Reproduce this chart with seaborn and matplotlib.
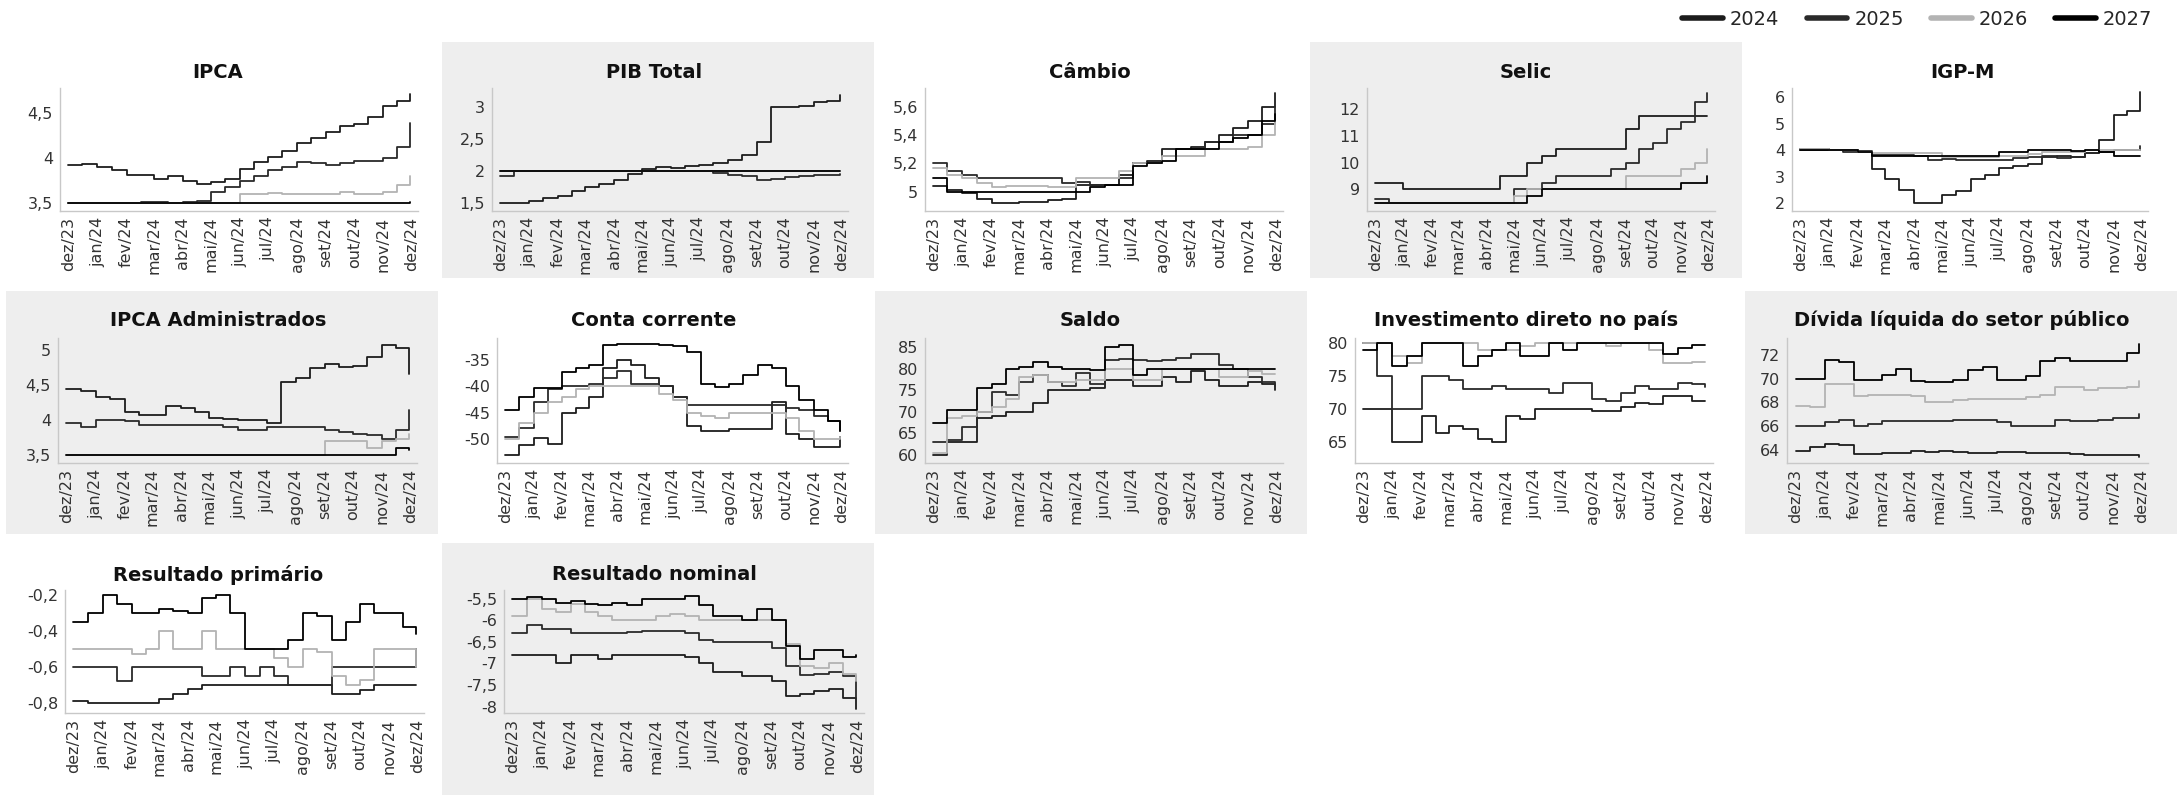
import numpy as np
import pandas as pd
import matplotlib
matplotlib.use("Agg")
import matplotlib.pyplot as plt
import seaborn as sns
from matplotlib.patches import Rectangle
import matplotlib.ticker as mticker
from matplotlib.lines import Line2D

# ---------------- data ----------------
dates = pd.to_datetime([
    "2023-12-01", "2023-12-16", "2024-01-01", "2024-01-16", "2024-02-01", "2024-02-16",
    "2024-03-01", "2024-03-16", "2024-04-01", "2024-04-16", "2024-05-01", "2024-05-16",
    "2024-06-01", "2024-06-16", "2024-07-01", "2024-07-16", "2024-08-01", "2024-08-16",
    "2024-09-01", "2024-09-16", "2024-10-01", "2024-10-16", "2024-11-01", "2024-11-16",
    "2024-11-29"])
month_ticks = pd.to_datetime([
    "2023-12-01", "2024-01-01", "2024-02-01", "2024-03-01", "2024-04-01", "2024-05-01",
    "2024-06-01", "2024-07-01", "2024-08-01", "2024-09-01", "2024-10-01", "2024-11-01",
    "2024-12-01"])
month_labels = ["dez/23", "jan/24", "fev/24", "mar/24", "abr/24", "mai/24", "jun/24",
                "jul/24", "ago/24", "set/24", "out/24", "nov/24", "dez/24"]
years = ["2024", "2025", "2026", "2027"]

ipca_2024 = [3.92, 3.93, 3.90, 3.87, 3.81, 3.81, 3.77, 3.80, 3.75, 3.71, 3.73, 3.77, 3.88, 3.95, 4.01, 4.08, 4.16, 4.22, 4.28, 4.35, 4.37, 4.45, 4.57, 4.63, 4.70]
ipca_2025 = [3.50, 3.50, 3.50, 3.50, 3.50, 3.51, 3.51, 3.50, 3.51, 3.53, 3.62, 3.68, 3.75, 3.80, 3.87, 3.90, 3.96, 3.94, 3.92, 3.94, 3.97, 3.97, 4.00, 4.12, 4.38]
ipca_2026 = [3.50, 3.50, 3.50, 3.50, 3.50, 3.50, 3.50, 3.50, 3.50, 3.50, 3.50, 3.50, 3.60, 3.60, 3.61, 3.60, 3.60, 3.60, 3.60, 3.62, 3.60, 3.60, 3.62, 3.70, 3.80]
ipca_2027 = [3.50, 3.50, 3.50, 3.50, 3.50, 3.50, 3.50, 3.50, 3.50, 3.50, 3.50, 3.50, 3.50, 3.50, 3.50, 3.50, 3.50, 3.50, 3.50, 3.50, 3.50, 3.50, 3.50, 3.50, 3.51]

pib_2024 = [1.50, 1.50, 1.52, 1.58, 1.60, 1.68, 1.75, 1.79, 1.85, 1.95, 2.03, 2.07, 2.05, 2.08, 2.09, 2.12, 2.18, 2.25, 2.46, 3.00, 3.00, 3.02, 3.08, 3.10, 3.20]
pib_2025 = [1.92, 2.00, 2.00, 2.00, 2.00, 2.00, 2.00, 2.00, 2.00, 2.00, 2.00, 2.00, 2.00, 2.00, 2.00, 1.97, 1.93, 1.92, 1.85, 1.88, 1.90, 1.92, 1.93, 1.94, 1.95]
pib_2026 = [2.00, 2.00, 2.00, 2.00, 2.00, 2.00, 2.00, 2.00, 2.00, 2.00, 2.00, 2.00, 2.00, 2.00, 2.00, 2.00, 2.00, 2.00, 2.00, 2.00, 2.00, 2.00, 2.00, 2.00, 2.00]
pib_2027 = [2.00, 2.00, 2.00, 2.00, 2.00, 2.00, 2.00, 2.00, 2.00, 2.00, 2.00, 2.00, 2.00, 2.00, 2.00, 2.00, 2.00, 2.00, 2.00, 2.00, 2.00, 2.00, 2.00, 2.00, 2.00]

cambio_2024 = [5.04, 5.01, 4.99, 4.95, 4.92, 4.92, 4.93, 4.93, 4.94, 4.95, 5.05, 5.05, 5.05, 5.12, 5.20, 5.22, 5.30, 5.30, 5.32, 5.35, 5.40, 5.45, 5.50, 5.60, 5.70]
cambio_2025 = [5.20, 5.15, 5.12, 5.10, 5.10, 5.10, 5.10, 5.10, 5.10, 5.06, 5.07, 5.05, 5.05, 5.10, 5.20, 5.20, 5.25, 5.30, 5.30, 5.35, 5.35, 5.40, 5.40, 5.48, 5.60]
cambio_2026 = [5.17, 5.12, 5.10, 5.06, 5.03, 5.04, 5.04, 5.04, 5.03, 5.03, 5.10, 5.10, 5.10, 5.15, 5.20, 5.20, 5.25, 5.25, 5.25, 5.30, 5.30, 5.30, 5.32, 5.40, 5.50]
cambio_2027 = [5.10, 5.00, 5.00, 5.00, 5.00, 5.00, 5.00, 5.00, 5.00, 5.00, 5.00, 5.03, 5.05, 5.05, 5.18, 5.20, 5.22, 5.30, 5.30, 5.30, 5.35, 5.38, 5.40, 5.50, 5.55]

selic_2024 = [9.25, 9.25, 9.00, 9.00, 9.00, 9.00, 9.00, 9.00, 9.00, 9.50, 9.50, 10.00, 10.25, 10.50, 10.50, 10.50, 10.50, 10.50, 11.25, 11.75, 11.75, 11.75, 11.75, 11.75, 11.75]
selic_2025 = [8.65, 8.50, 8.50, 8.50, 8.50, 8.50, 8.50, 8.50, 8.50, 8.50, 9.00, 9.00, 9.25, 9.50, 9.50, 9.50, 9.50, 9.75, 10.00, 10.50, 10.75, 11.25, 11.50, 12.25, 12.60]
selic_2026 = [8.50, 8.50, 8.50, 8.50, 8.50, 8.50, 8.50, 8.50, 8.50, 8.50, 8.75, 9.00, 9.00, 9.00, 9.00, 9.00, 9.00, 9.00, 9.50, 9.50, 9.50, 9.50, 9.75, 10.00, 10.50]
selic_2027 = [8.50, 8.50, 8.50, 8.50, 8.50, 8.50, 8.50, 8.50, 8.50, 8.50, 8.50, 8.75, 9.00, 9.00, 9.00, 9.00, 9.00, 9.00, 9.00, 9.00, 9.00, 9.00, 9.25, 9.25, 9.50]

igpm_2024 = [4.05, 4.05, 4.02, 4.00, 3.95, 3.30, 2.90, 2.50, 2.00, 2.00, 2.30, 2.45, 2.90, 3.05, 3.35, 3.42, 3.50, 3.75, 3.80, 3.75, 3.90, 4.40, 5.35, 5.50, 6.20]
igpm_2025 = [4.00, 4.00, 4.00, 3.95, 3.98, 3.82, 3.82, 3.82, 3.80, 3.65, 3.68, 3.65, 3.65, 3.62, 3.65, 3.70, 3.75, 3.80, 3.70, 3.75, 3.90, 3.95, 4.00, 4.00, 4.15]
igpm_2026 = [4.05, 4.05, 4.02, 4.00, 3.95, 3.88, 3.88, 3.88, 3.88, 3.88, 3.75, 3.75, 3.75, 3.75, 3.78, 3.80, 3.85, 3.95, 3.95, 3.95, 4.00, 4.00, 4.00, 4.00, 4.00]
igpm_2027 = [4.00, 4.00, 4.00, 4.00, 3.95, 3.80, 3.80, 3.80, 3.80, 3.80, 3.78, 3.78, 3.78, 3.78, 3.95, 3.95, 4.00, 4.00, 4.00, 3.98, 4.00, 3.95, 3.80, 3.78, 3.78]

adm_2024 = [4.45, 4.42, 4.33, 4.30, 4.12, 4.07, 4.07, 4.20, 4.17, 4.12, 4.03, 4.01, 4.00, 4.00, 3.96, 4.55, 4.60, 4.75, 4.80, 4.76, 4.77, 4.90, 5.08, 5.03, 4.66]
adm_2025 = [3.95, 3.90, 4.00, 4.00, 3.98, 3.93, 3.92, 3.93, 3.92, 3.92, 3.92, 3.90, 3.86, 3.85, 3.90, 3.90, 3.90, 3.90, 3.85, 3.82, 3.80, 3.79, 3.72, 3.85, 4.15]
adm_2026 = [3.50, 3.50, 3.50, 3.50, 3.50, 3.50, 3.50, 3.50, 3.50, 3.50, 3.50, 3.50, 3.50, 3.50, 3.50, 3.50, 3.50, 3.50, 3.70, 3.70, 3.70, 3.60, 3.70, 3.72, 3.80]
adm_2027 = [3.50, 3.50, 3.50, 3.50, 3.50, 3.50, 3.50, 3.50, 3.50, 3.50, 3.50, 3.50, 3.50, 3.50, 3.50, 3.50, 3.50, 3.50, 3.50, 3.50, 3.50, 3.50, 3.50, 3.60, 3.57]

cc_2024 = [-53.0, -51.0, -49.8, -50.8, -45.0, -44.0, -42.0, -36.5, -35.0, -36.0, -38.5, -40.0, -42.0, -47.5, -48.5, -48.5, -48.0, -48.0, -48.0, -43.0, -49.0, -50.0, -51.5, -51.5, -49.5]
cc_2025 = [-49.5, -47.8, -43.0, -40.5, -40.0, -40.0, -39.5, -38.5, -37.0, -39.5, -39.5, -40.0, -42.0, -43.5, -43.5, -43.5, -43.5, -43.5, -43.5, -43.5, -44.0, -44.5, -45.5, -46.5, -48.5]
cc_2026 = [-50.0, -47.0, -45.0, -43.0, -42.0, -40.5, -40.0, -40.0, -40.0, -40.0, -40.0, -41.5, -42.5, -45.0, -45.5, -46.0, -45.0, -45.0, -45.0, -45.0, -46.0, -48.5, -50.0, -50.0, -49.5]
cc_2027 = [-44.5, -42.0, -40.3, -40.3, -37.2, -36.5, -36.0, -32.2, -32.0, -32.0, -32.0, -32.1, -32.3, -33.5, -39.5, -40.2, -39.5, -37.8, -36.0, -36.5, -40.0, -42.5, -44.5, -46.5, -48.5]

saldo_2024 = [60.0, 63.0, 63.0, 68.5, 69.0, 70.0, 70.0, 72.0, 75.0, 75.0, 75.0, 75.5, 77.5, 77.5, 76.0, 76.0, 78.0, 77.0, 79.5, 77.5, 76.0, 76.0, 77.0, 76.5, 75.0]
saldo_2025 = [63.0, 63.5, 66.5, 70.0, 74.5, 74.0, 77.0, 78.5, 77.0, 76.0, 79.0, 76.5, 82.0, 82.3, 82.0, 81.8, 82.0, 82.5, 83.5, 83.5, 81.0, 80.0, 78.0, 77.0, 76.0]
saldo_2026 = [60.5, 68.5, 69.0, 70.0, 71.0, 73.0, 78.0, 78.5, 77.0, 77.0, 77.5, 77.5, 80.0, 80.0, 77.5, 77.5, 80.0, 80.0, 80.0, 80.0, 78.0, 78.0, 79.5, 78.8, 78.8]
saldo_2027 = [67.5, 70.5, 70.5, 75.5, 76.5, 80.0, 80.5, 81.5, 80.5, 80.0, 80.0, 79.8, 85.0, 85.5, 78.5, 80.0, 80.0, 80.0, 80.0, 80.0, 80.0, 80.0, 80.0, 80.0, 80.0]

inv_2024 = [70.0, 70.0, 65.0, 65.0, 69.0, 66.5, 67.5, 67.0, 65.5, 65.0, 69.0, 68.5, 70.0, 70.0, 70.0, 70.0, 69.7, 69.8, 70.3, 71.0, 70.8, 72.0, 72.0, 71.3, 71.2]
inv_2025 = [80.0, 75.0, 70.0, 70.0, 75.0, 75.0, 74.5, 73.0, 73.0, 73.5, 73.0, 73.0, 73.0, 72.5, 74.0, 74.0, 71.5, 71.2, 72.5, 73.5, 73.0, 73.0, 74.0, 73.8, 73.3]
inv_2026 = [80.0, 80.0, 78.0, 77.0, 80.0, 80.0, 80.0, 80.0, 79.0, 79.0, 79.0, 79.5, 80.0, 80.0, 80.0, 80.0, 80.0, 79.5, 80.0, 80.0, 79.0, 77.0, 77.0, 77.2, 77.2]
inv_2027 = [79.0, 80.0, 76.5, 78.0, 80.0, 80.0, 80.0, 76.5, 78.0, 79.0, 80.0, 78.0, 78.0, 80.0, 79.0, 80.0, 80.0, 80.0, 80.0, 80.0, 80.0, 78.3, 79.3, 79.7, 79.7]

div_2024 = [63.9, 64.2, 64.5, 64.4, 63.6, 63.6, 63.7, 63.7, 63.9, 63.8, 63.9, 63.8, 63.7, 63.7, 63.8, 63.8, 63.7, 63.7, 63.7, 63.6, 63.5, 63.5, 63.5, 63.5, 63.4]
div_2025 = [66.0, 66.0, 66.3, 66.5, 66.0, 66.2, 66.4, 66.4, 66.4, 66.4, 66.4, 66.5, 66.5, 66.5, 66.3, 66.0, 66.0, 66.0, 66.5, 66.4, 66.4, 66.5, 66.7, 66.7, 67.0]
div_2026 = [67.7, 67.6, 69.5, 69.5, 68.5, 68.6, 68.6, 68.6, 68.5, 68.0, 68.0, 68.2, 68.3, 68.3, 68.3, 68.3, 68.4, 68.6, 69.3, 69.3, 69.0, 69.2, 69.2, 69.3, 69.8]
div_2027 = [70.0, 70.0, 71.6, 71.4, 69.9, 69.9, 70.3, 70.8, 69.8, 69.7, 69.7, 69.9, 70.7, 71.0, 69.9, 69.9, 70.2, 71.5, 71.7, 71.5, 71.5, 71.5, 71.5, 72.2, 72.9]

prim_2024 = [-0.79, -0.80, -0.80, -0.80, -0.80, -0.80, -0.78, -0.75, -0.72, -0.70, -0.70, -0.70, -0.70, -0.70, -0.70, -0.70, -0.70, -0.70, -0.75, -0.75, -0.73, -0.70, -0.70, -0.70, -0.70]
prim_2025 = [-0.60, -0.60, -0.60, -0.68, -0.60, -0.60, -0.60, -0.60, -0.60, -0.65, -0.65, -0.60, -0.65, -0.60, -0.65, -0.70, -0.70, -0.70, -0.60, -0.60, -0.60, -0.60, -0.60, -0.60, -0.50]
prim_2026 = [-0.50, -0.50, -0.50, -0.50, -0.53, -0.50, -0.40, -0.50, -0.50, -0.40, -0.50, -0.50, -0.50, -0.50, -0.55, -0.60, -0.50, -0.52, -0.65, -0.70, -0.67, -0.50, -0.50, -0.50, -0.60]
prim_2027 = [-0.35, -0.30, -0.20, -0.25, -0.30, -0.30, -0.28, -0.29, -0.30, -0.22, -0.20, -0.30, -0.50, -0.50, -0.50, -0.45, -0.30, -0.32, -0.45, -0.35, -0.25, -0.30, -0.30, -0.38, -0.42]

nom_2024 = [-6.80, -6.80, -6.80, -7.00, -6.80, -6.80, -6.90, -6.80, -6.80, -6.80, -6.80, -6.80, -6.85, -7.00, -7.20, -7.20, -7.30, -7.30, -7.40, -7.75, -7.72, -7.65, -7.60, -7.80, -8.05]
nom_2025 = [-6.30, -6.10, -6.20, -6.20, -6.30, -6.30, -6.30, -6.30, -6.27, -6.25, -6.25, -6.25, -6.30, -6.45, -6.50, -6.50, -6.50, -6.50, -6.65, -7.05, -7.28, -7.25, -7.20, -7.30, -7.80]
nom_2026 = [-5.90, -5.50, -5.75, -5.80, -5.62, -5.80, -5.90, -6.00, -6.00, -6.00, -5.90, -5.85, -5.90, -6.00, -6.00, -6.00, -6.00, -6.00, -6.00, -6.55, -7.05, -7.10, -7.00, -7.25, -7.40]
nom_2027 = [-5.50, -5.47, -5.50, -5.60, -5.55, -5.62, -5.65, -5.60, -5.65, -5.50, -5.50, -5.50, -5.45, -5.65, -5.90, -5.90, -6.00, -5.75, -6.00, -6.60, -6.90, -6.70, -6.70, -6.85, -6.80]

titles = ["IPCA", "PIB Total", "Câmbio", "Selic", "IGP-M",
          "IPCA Administrados", "Conta corrente", "Saldo", "Investimento direto no país",
          "Dívida líquida do setor público", "Resultado primário", "Resultado nominal"]
series = [
    [ipca_2024, ipca_2025, ipca_2026, ipca_2027],
    [pib_2024, pib_2025, pib_2026, pib_2027],
    [cambio_2024, cambio_2025, cambio_2026, cambio_2027],
    [selic_2024, selic_2025, selic_2026, selic_2027],
    [igpm_2024, igpm_2025, igpm_2026, igpm_2027],
    [adm_2024, adm_2025, adm_2026, adm_2027],
    [cc_2024, cc_2025, cc_2026, cc_2027],
    [saldo_2024, saldo_2025, saldo_2026, saldo_2027],
    [inv_2024, inv_2025, inv_2026, inv_2027],
    [div_2024, div_2025, div_2026, div_2027],
    [prim_2024, prim_2025, prim_2026, prim_2027],
    [nom_2024, nom_2025, nom_2026, nom_2027],
]
yticks = [
    [3.5, 4, 4.5], [1.5, 2, 2.5, 3], [5, 5.2, 5.4, 5.6], [9, 10, 11, 12], [2, 3, 4, 5, 6],
    [3.5, 4, 4.5, 5], [-50, -45, -40, -35], [60, 65, 70, 75, 80, 85], [65, 70, 75, 80],
    [64, 66, 68, 70, 72], [-0.8, -0.6, -0.4, -0.2], [-8, -7.5, -7, -6.5, -6, -5.5],
]

# ---------------- layout / style ----------------
W, H = 2179, 795
colors = {"2024": "#1c1c1c", "2025": "#2a2a2a", "2026": "#b3b3b3", "2027": "#000000"}
ylims = [
    (3.415, 4.77), (1.37, 3.305), (4.863, 5.735), (8.19, 12.79), (1.71, 6.35),
    (3.38, 5.18), (-54.47, -30.85), (58.06, 87.2), (61.9, 80.77), (62.86, 73.43),
    (-0.855, -0.175), (-8.15, -5.3),
]
# (row, col, left offset, right offset) in px inside a 436 px cell
cells = [
    (0, 0, 60, 418), (0, 1, 56, 412), (0, 2, 53, 411), (0, 3, 59, 407), (0, 4, 48, 404),
    (1, 0, 58, 417), (1, 1, 61, 412), (1, 2, 53, 411), (1, 3, 47, 405), (1, 4, 43, 404),
    (2, 0, 65, 424), (2, 1, 68, 428),
]
row_axes_y = [(88, 211), (338, 463), (590, 713)]
row_title_y = [73, 320, 575]
row_bg = [(42, 236), (291, 243), (543, 252)]
col_bg_x = [6, 442, 875, 1310, 1745]
cell_w = 436

sns.set_theme(style="white")
plt.rcParams["font.family"] = ["DejaVu Sans"]
plt.rcParams["axes.unicode_minus"] = False

fig = plt.figure(figsize=(W / 100, H / 100), dpi=100)
fig.patch.set_facecolor("white")

# checkerboard grey panels (background)
for r in range(3):
    for c in range(5):
        if r == 2 and c > 1:
            continue
        if (r + c) % 2 == 1:
            y0, h = row_bg[r]
            fig.patches.append(Rectangle((col_bg_x[c] / W, 1 - (y0 + h) / H), 432 / W, h / H,
                                         transform=fig.transFigure, facecolor="#eeeeee",
                                         edgecolor="none", zorder=-10))

fmt = mticker.FuncFormatter(lambda v, p: ("%g" % round(v, 3)).replace(".", ","))

for i, title in enumerate(titles):
    r, c, lo, ro = cells[i]
    top, bot = row_axes_y[r]
    x0 = c * cell_w + lo
    x1 = c * cell_w + ro
    ax = fig.add_axes([x0 / W, 1 - bot / H, (x1 - x0) / W, (bot - top) / H])
    ax.set_zorder(5)
    ax.set_facecolor("none")
    for yr, vals in zip(years, series[i]):
        sns.lineplot(x=dates, y=vals, ax=ax, color=colors[yr], lw=1.3,
                     drawstyle="steps-post", estimator=None, sort=False)
    ax.set_xlim(pd.Timestamp("2023-11-22"), pd.Timestamp("2024-12-08"))
    ax.set_ylim(*ylims[i])
    ax.set_xticks(month_ticks)
    ax.set_xticklabels(month_labels, rotation=90)
    ax.set_yticks(yticks[i])
    ax.yaxis.set_major_formatter(fmt)
    ax.set_xlabel("")
    ax.set_ylabel("")
    ax.tick_params(axis="both", length=0, labelsize=11.5, colors="#333333")
    ax.tick_params(axis="x", pad=4)
    ax.tick_params(axis="y", pad=5)
    for s in ["top", "right"]:
        ax.spines[s].set_visible(False)
    for s in ["left", "bottom"]:
        ax.spines[s].set_color("#c8c8c8")
        ax.spines[s].set_linewidth(1.0)
    fig.text((c * cell_w + 218) / W, 1 - row_title_y[r] / H, title, ha="center", va="center",
             fontsize=14, fontweight="bold", color="#111111", zorder=6)

handles = [Line2D([0], [0], color=colors[y], lw=4) for y in years]
fig.legend(handles, years, loc="upper right", bbox_to_anchor=(2160 / W, 1 - 2 / H), ncol=4,
           frameon=False, fontsize=14, handlelength=2.1, handletextpad=0.35,
           columnspacing=1.4, borderaxespad=0)

fig.savefig("out.png", dpi=100, facecolor="white")
